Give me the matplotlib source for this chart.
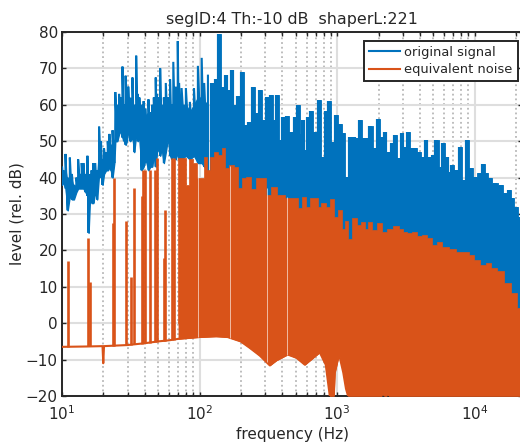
import numpy as np
import matplotlib
matplotlib.use("Agg")
import matplotlib.pyplot as plt
from matplotlib.ticker import LogLocator, NullFormatter

plt.rcParams["font.family"] = "DejaVu Sans"
plt.rcParams["mathtext.default"] = "regular"

BLUE = "#0072BD"
ORANGE = "#D95319"
DARK = "#262626"

# original signal, low end: column per frequency, top and bottom of the trace
blue_low_freq = [10.0, 10.2, 10.6, 11.0, 11.4, 11.8, 12.2, 12.7, 13.1, 13.5, 13.9, 14.3, 14.8, 15.3, 15.6,
                 16.0, 16.4, 16.9, 17.4, 18.0, 18.6, 19.2, 19.7, 20.2, 20.9, 21.5, 22.1, 22.6, 23.3, 24.0,
                 24.4, 25.2, 26.0, 26.8, 27.5, 28.2, 29.0, 29.6, 30.3, 31.3, 32.5, 33.5, 34.6, 35.5, 36.5,
                 37.9, 39.2, 40.5, 42.5, 43.8, 45.2, 46.5, 48.0, 49.0, 50.5, 51.7, 53.0, 55.0, 56.8, 59.0,
                 61.0, 63.0, 64.4, 67.0, 69.4, 71.0, 74.0, 79.5, 85.0, 91.0, 97.2, 103.6, 108.0, 115.0]
blue_low_top = [43, 42, 46.5, 40, 45.5, 41, 38, 40, 45, 41, 44, 44, 41, 46, 38,
                41, 42, 44, 44, 42, 54, 50, 45, 48, 47, 50, 52, 49, 53, 50,
                63.5, 60, 63, 62, 70.5, 60, 68, 58, 65, 62, 67.5, 60, 73.5, 63, 62,
                60, 61, 59, 61.5, 58, 60, 62, 67.5, 63, 62, 70, 60, 62, 66, 62,
                67, 60, 71.8, 65, 77.5, 66, 64.6, 64.6, 60.8, 64.6, 70.7, 72.9, 66, 68]
blue_low_bottom = [38, 39, 37, 31, 35, 34, 34, 36, 37, 37, 37, 37, 36, 35, 24.8,
                   35, 33, 33, 36, 34, 41, 40, 38, 41, 42, 42, 43, 42, 40, 44,
                   50, 50, 52, 53, 51, 50, 49, 50, 53, 50, 51, 47, 52, 50, 51,
                   42, 43, 45, 42, 43, 43, 46, 43, 47, 48, 46, 48, 44, 47, 51,
                   46, 45, 46, 45, 47, 45, 45, 46, 45, 46, 44, 44, 43, 42]
# level up to which the low-end trace is solid
blue_low_solid = [41, 41, 42, 38, 41, 39, 37, 38, 41, 39, 41, 41, 39, 41, 36,
                  39, 39, 40, 41, 40, 48, 46, 42, 45, 45, 47, 48, 46, 49, 47,
                  58, 57, 58, 58, 59, 57, 58, 56, 57, 57, 58, 56, 59, 58, 58,
                  57, 58, 57, 58, 56, 57, 58, 60, 59, 59, 60, 58, 59, 60, 59,
                  60, 58, 61, 60, 62, 61, 60, 60, 58, 60, 62, 62, 61, 60]

# original signal, upper part (the rest sits behind the noise)
blue_high_freq = [123, 131, 139, 145, 155, 163, 171, 180, 190, 204, 216, 229, 244, 258, 276, 290, 309, 333, 352,
                  367, 386, 402, 431, 465, 492, 521, 545, 560, 582, 612, 648, 688, 734, 780, 826, 866, 930, 980,
                  1045, 1108, 1170, 1234, 1320, 1380, 1475, 1556, 1664, 1745, 1875, 1990, 2103, 2217, 2342, 2490,
                  2635, 2790, 2935, 3097, 3270, 3457, 3660, 3930, 4180, 4390, 4650, 4980, 5270, 5650, 5890, 6240,
                  6574, 6870, 7350, 7770, 8300, 8830, 9390, 10050, 10860, 11480, 12150, 12830, 13950, 15570,
                  16490, 17700, 18800, 19900, 21100, 22050]
blue_high_top = [66, 67, 79.5, 65, 68.3, 64, 69.5, 60, 62.3, 69, 54.4, 55.2, 65, 57.7, 64, 55.8, 62.2, 62.7, 55.8,
                 62.7, 50.3, 56.6, 57, 52.5, 56.6, 60, 52, 55.8, 47.6, 56.6, 58.3, 52.5, 61.3, 45.7, 58.3, 61, 49.8, 57.2,
                 54.7, 52.2, 40.2, 51.2, 51.2, 50.9, 55.8, 50.9, 50.9, 54.2, 48.1, 56, 51.1, 52.4, 47, 49.5,
                 51.7, 45.3, 52.2, 48.4, 52.4, 48, 48.2, 47, 45.6, 50.3, 45.6, 46.2, 50.3, 43, 49.6, 45.7,
                 41.6, 43.5, 42.1, 48.4, 39.3, 50.3, 42.6, 40.2, 41.3, 43.7, 41.3, 39.9, 38.5, 38,
                 35.8, 36.6, 34.4, 31.9, 29.2, 27]

# equivalent noise: isolated spikes at the low end
spike_freq = [11.1, 15.5, 16.1, 23.3, 23.8, 29.0, 31.7, 33.2, 38.0, 39.0, 39.8, 43.8, 47.1, 49.4, 54.8, 56.4, 63.3, 65.5]
spike_top = [17.2, 23.4, 11.4, 27.5, 40, 28, 12.7, 37.2, 35, 42, 42, 42, 42, 45.3, 18, 31, 45.3, 45.3]

# equivalent noise: solid part, upper edge
noise_freq = [70.2, 74.5, 78.8, 81, 85.7, 93, 98, 103, 111, 117, 123, 131, 140, 150, 158, 171, 185, 196, 211, 223, 247,
              270, 294, 318, 344, 383, 453, 506, 535, 575, 612, 660, 710, 740, 795, 855, 930, 980, 1045, 1108, 1170,
              1234, 1342, 1435, 1536, 1630, 1725, 1875, 2039, 2217, 2410, 2695, 2935, 3097, 3367, 3660, 3980, 4327,
              4705, 5115, 5561, 6046, 6950, 7550, 8700, 9450, 10400, 11480, 12500, 13950, 15170, 17300, 19490, 21190, 22050]
noise_top = [45.3, 45.3, 45.3, 38, 45, 44, 40, 40, 45.7, 42, 45.7, 47, 46.2, 48, 42.6, 43.5, 43, 37.1, 39.9, 40.2, 37,
             39.9, 39.8, 35.2, 37.4, 35.2, 34.4, 34.4, 31.6, 34.7, 32, 34.4, 34.4, 32, 33, 32, 34, 29.2, 31, 26, 28,
             23, 29, 27, 27.8, 26, 27.8, 25.5, 27.5, 25, 26, 26.7, 26, 25, 24.8, 25, 24, 24.2,
             23.4, 21.5, 22.3, 21, 20.4, 19.6, 19.6, 18.7, 17.3, 15.9, 16.5, 15.2, 14.3, 11, 8.3, 4.2, 2]

# equivalent noise: lower edge, the floor of the whole trace
floor_freq = [10, 15, 19.7, 19.95, 20.2, 30, 40, 50, 60, 70.2, 100, 132, 160, 199, 232, 274, 324, 362, 437, 506, 582,
              747, 826, 884, 945, 961, 1032, 1108, 1159, 1200, 2100, 2153, 2200, 2280, 2330, 2380, 22050]
floor_level = [-6.5, -6.4, -6.3, -11, -6.3, -6, -5.5, -5, -4.7, -4.3, -3.8, -3.6, -3.8, -5, -6.8, -8.9, -11.6, -10.2,
               -8.6, -9.5, -11.4, -8, -11.4, -20, -20, -13.6, -8.5, -13.6, -18, -20, -20, -18, -20, -20, -18.5, -20, -20]

# narrow gaps in the solid part
slit_freq = [97, 165, 308, 430]

fig = plt.figure(figsize=(5.2, 4.46), dpi=100)
ax = fig.add_axes([62 / 520, 50 / 446, 460 / 520, 364 / 446])

# low end: solid band plus a trace going up and down each column
low_x = np.repeat(blue_low_freq, 2)
low_y = np.column_stack([blue_low_bottom, blue_low_top]).ravel()
ax.fill_between(blue_low_freq, blue_low_bottom, blue_low_solid, color=BLUE, lw=1, zorder=2)
ax.plot(low_x, low_y, color=BLUE, lw=1.5, solid_joinstyle="miter", zorder=2, label="original signal")
# upper part: wide columns, so only narrow valleys stay open
ax.fill_between(blue_high_freq, 0, blue_high_top, step="mid", color=BLUE, lw=0.6, zorder=2)
ax.vlines(blue_high_freq, 0, blue_high_top, color=BLUE, lw=3, zorder=2)

floor_f = np.array(floor_freq)
floor_v = np.array(floor_level)
ax.plot(floor_f, floor_v, color=ORANGE, lw=1.5, zorder=3, label="equivalent noise")
ax.vlines(spike_freq, np.interp(spike_freq, floor_f, floor_v), spike_top, color=ORANGE, lw=1.9, zorder=3)
ax.fill_between(noise_freq, 0, noise_top, step="mid", color=ORANGE, lw=0.5, zorder=3)
body = floor_f >= 70
ax.fill_between(floor_f[body], floor_v[body], 0.5, color=ORANGE, lw=0.5, zorder=3)
ax.vlines(slit_freq, np.interp(slit_freq, floor_f, floor_v), np.interp(slit_freq, noise_freq, noise_top),
          color="white", lw=0.6, alpha=0.7, zorder=3)

ax.set_xscale("log")
ax.set_xlim(10, 22050)
ax.set_ylim(-20, 80)
ax.set_yticks(np.arange(-20, 81, 10))
ax.xaxis.set_major_locator(LogLocator(base=10, numticks=6))
ax.xaxis.set_minor_locator(LogLocator(base=10, subs=np.arange(2, 10), numticks=6))
ax.xaxis.set_minor_formatter(NullFormatter())

ax.set_axisbelow(True)
ax.grid(True, which="major", color="#dedede", lw=1.5)
ax.grid(True, which="minor", axis="x", color="#b8b8b8", lw=1.3, ls=(0, (1, 1.6)))
ax.tick_params(which="both", direction="in", top=True, right=True, length=3.2, width=1, color=DARK,
               labelcolor=DARK, labelsize=11, pad=3)
ax.tick_params(axis="x", which="major", pad=6)
for spine in ax.spines.values():
    spine.set_color(DARK)
    spine.set_linewidth(1.4)
    spine.set_zorder(1)

ax.set_xlabel("frequency (Hz)", fontsize=11, color=DARK, labelpad=3)
ax.set_ylabel("level (rel. dB)", fontsize=11, color=DARK, labelpad=1)
ax.set_title("segID:4 Th:-10 dB  shaperL:221", fontsize=11.4, color=DARK, pad=6)

leg = ax.legend(loc="upper left", bbox_to_anchor=(302 / 460, 355 / 364), borderaxespad=0, fontsize=9.4,
                fancybox=False, framealpha=1, edgecolor=DARK, handlelength=2.4, labelspacing=0.33,
                handletextpad=0.3, borderpad=0.38)
leg.get_frame().set_linewidth(1.4)
for t in leg.get_texts():
    t.set_color(DARK)

fig.savefig("out.png", dpi=100)
